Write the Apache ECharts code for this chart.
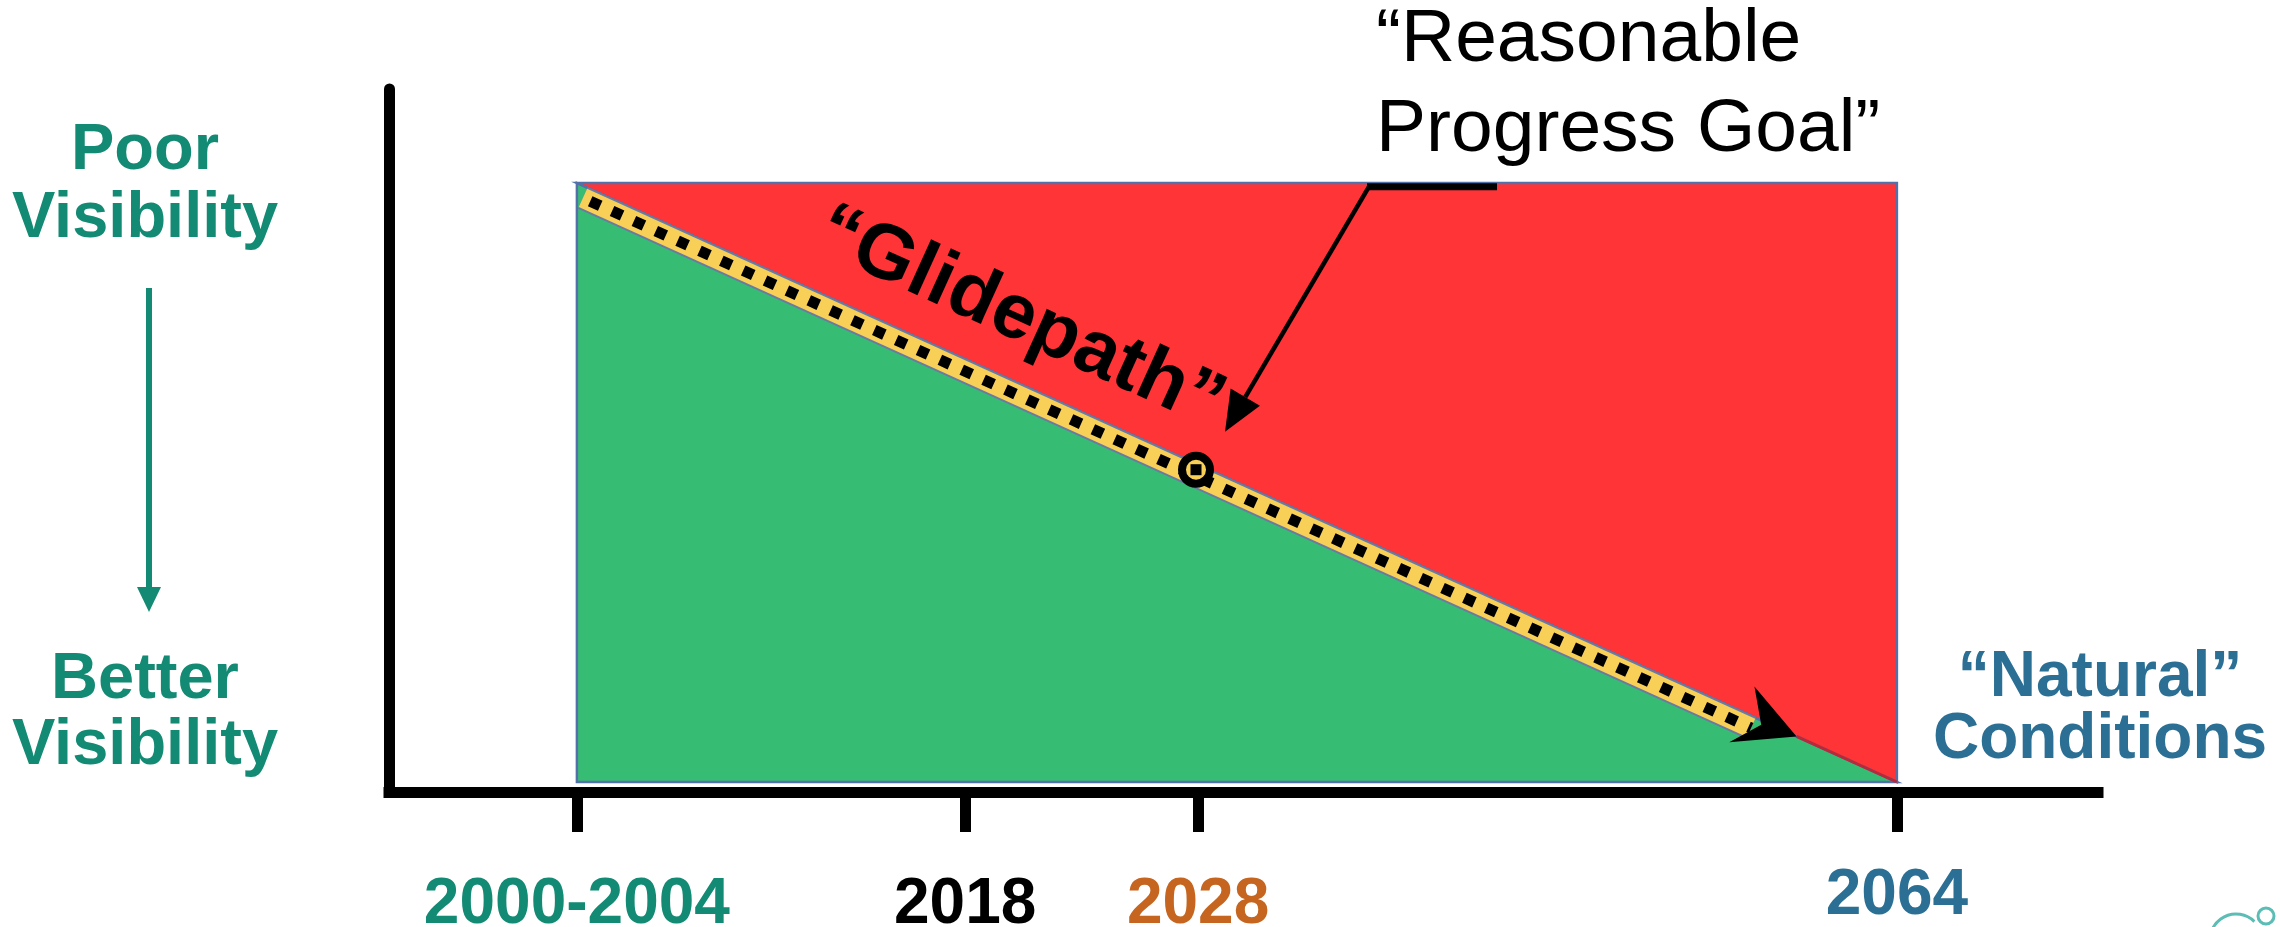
<!DOCTYPE html>
<html><head><meta charset="utf-8">
<script src="https://cdn.jsdelivr.net/npm/echarts@6/dist/echarts.min.js"></script>
<style>html,body{margin:0;padding:0;background:#fff}#c{width:2280px;height:927px}</style>
</head><body><div id="c"></div>
<script>
// ---- data ----
const milestoneLabels = ['2000-2004', '2018', '2028', '2064'];
const milestonePositions = [0, 5, 8, 17];      // schematic timeline slots
const glidepathStart = [0, 100];               // 2000-2004 baseline: poor visibility
const glidepathEnd = [17, 0];                  // 2064: natural conditions
const progressGoal = [8, 52.9];                // 2028 reasonable progress goal

// ---- styles ----
const FONT = "'Liberation Sans', Arial, sans-serif";
const RED = '#fe3437', GREEN = '#37bd73', YELLOW = '#f8cf57', EDGE = '#5470a8';
const TEAL = '#138a73', BLUE = '#2b7094', ORANGE = '#c5651f';
const BAND_OFF = 11;

function geom(api) {
  const p0 = api.coord(glidepathStart), p1 = api.coord(glidepathEnd);
  const dx = p1[0] - p0[0], dy = p1[1] - p0[1], L = Math.hypot(dx, dy);
  const ux = dx / L, uy = dy / L, nx = -uy, ny = ux;
  return {p0, p1, dx, dy, L, ux, uy, nx, ny,
    at: (t, off) => [p0[0] + dx * t + nx * off, p0[1] + dy * t + ny * off]};
}

function label(x, y, text, size, color, weight, align) {
  return {type: 'text', x: x, y: y, silent: true,
    style: {text: text, x: 0, y: 0, fontSize: size, fontWeight: weight, fontFamily: FONT,
      fill: color, align: align || 'center', verticalAlign: 'middle'}};
}

const chart = echarts.init(document.getElementById('c'));
chart.setOption({
  animation: false,
  backgroundColor: '#fff',
  grid: {left: 389, right: 182, top: 89, bottom: 135, containLabel: false, outerBoundsMode: 'none'},
  xAxis: {
    type: 'value', min: -2.42, max: 19.59,
    axisLine: {show: true, onZero: false, lineStyle: {color: '#000', width: 11, cap: 'square'}},
    axisTick: {show: true, customValues: milestonePositions, length: 40, lineStyle: {color: '#000', width: 11}},
    axisLabel: {
      show: true, customValues: milestonePositions, margin: 81,
      formatter: v => { const i = milestonePositions.indexOf(v); return '{m' + i + '|' + milestoneLabels[i] + '}'; },
      rich: {
        m0: {color: TEAL, fontSize: 64, fontWeight: 'bold', fontFamily: FONT, lineHeight: 64},
        m1: {color: '#000', fontSize: 64, fontWeight: 'bold', fontFamily: FONT, lineHeight: 64},
        m2: {color: ORANGE, fontSize: 64, fontWeight: 'bold', fontFamily: FONT, lineHeight: 64},
        m3: {color: BLUE, fontSize: 64, fontWeight: 'bold', fontFamily: FONT, lineHeight: 46}
      }
    },
    splitLine: {show: false}
  },
  yAxis: {
    type: 'value', min: -1.67, max: 115.7,
    axisLine: {show: true, onZero: false, lineStyle: {color: '#000', width: 11}},
    axisTick: {show: false}, axisLabel: {show: false}, splitLine: {show: false}
  },
  series: [
    {
      type: 'custom', name: 'Regions', silent: true,
      data: [[glidepathStart[0], glidepathStart[1], glidepathEnd[0], glidepathEnd[1]]],
      encode: {x: [0, 2], y: [1, 3]},
      renderItem: (params, api) => {
        const a = api.coord([api.value(0), api.value(1)]);
        const b = api.coord([api.value(2), api.value(3)]);
        const tr = api.coord([api.value(2), api.value(1)]);
        const bl = api.coord([api.value(0), api.value(3)]);
        return {type: 'group', children: [
          {type: 'polygon', shape: {points: [a, tr, b]}, style: {fill: RED, stroke: EDGE, lineWidth: 2.5}},
          {type: 'polygon', shape: {points: [a, b, bl]}, style: {fill: GREEN, stroke: EDGE, lineWidth: 2.5}}
        ]};
      }
    },
    {
      type: 'custom', name: 'Glidepath', silent: true,
      data: [[glidepathStart[0], glidepathStart[1], glidepathEnd[0], glidepathEnd[1]]],
      encode: {x: [0, 2], y: [1, 3]},
      renderItem: (params, api) => {
        const g = geom(api);
        const s = g.at(0.008, BAND_OFF), e = g.at(0.893, BAND_OFF);
        const tip = g.at(0.924, 0);
        const P = (d, n) => [tip[0] + g.ux * d + g.nx * n, tip[1] + g.uy * d + g.ny * n];
        const tc = g.at(0.317, -60);
        return {type: 'group', children: [
          {type: 'line', shape: {x1: tip[0], y1: tip[1], x2: g.p1[0], y2: g.p1[1]}, style: {stroke: '#b8293a', lineWidth: 3}},
          {type: 'line', shape: {x1: s[0], y1: s[1], x2: e[0], y2: e[1]}, style: {stroke: '#6b7aa0', lineWidth: 24}},
          {type: 'line', shape: {x1: s[0], y1: s[1], x2: e[0], y2: e[1]}, style: {stroke: YELLOW, lineWidth: 20}},
          {type: 'line', shape: {x1: s[0], y1: s[1], x2: e[0], y2: e[1]}, style: {stroke: '#000', lineWidth: 11, lineDash: [11, 13], lineDashOffset: -8}},
          {type: 'polygon', shape: {points: [tip, P(-59, -28), P(-37, 4), P(-59, 33)]}, style: {fill: '#000'}},
          {type: 'text', x: tc[0], y: tc[1], rotation: -Math.atan2(g.dy, g.dx),
            style: {text: '\u201cGlidepath\u201d', x: 0, y: 0, align: 'center', verticalAlign: 'middle',
              fill: '#000', fontSize: 78, fontWeight: 'bold', fontFamily: FONT}}
        ]};
      }
    },
    {
      type: 'custom', name: 'Reasonable Progress Goal', silent: true,
      data: [progressGoal],
      encode: {x: 0, y: 1},
      renderItem: (params, api) => {
        const g = geom(api);
        const c0 = api.coord([api.value(0), api.value(1)]);
        const cc = [c0[0] + g.nx * 5, c0[1] + g.ny * 5];
        const tip = [cc[0] + 29, cc[1] - 38];
        const elbow = [tip[0] + 144, tip[1] - 245];
        const barEnd = [elbow[0] + 128, elbow[1]];
        const vx = tip[0] - elbow[0], vy = tip[1] - elbow[1], vl = Math.hypot(vx, vy);
        const ax = vx / vl, ay = vy / vl, px = -ay, py = ax;
        const base = [tip[0] - ax * 40, tip[1] - ay * 40];
        return {type: 'group', children: [
          {type: 'circle', shape: {cx: cc[0], cy: cc[1], r: 14}, style: {fill: YELLOW, stroke: '#000', lineWidth: 8}},
          {type: 'rect', shape: {x: cc[0] - 5.5, y: cc[1] - 5.5, width: 11, height: 11}, style: {fill: '#000'}},
          {type: 'line', shape: {x1: elbow[0] - 2, y1: elbow[1], x2: barEnd[0], y2: barEnd[1]}, style: {stroke: '#000', lineWidth: 7}},
          {type: 'line', shape: {x1: elbow[0], y1: elbow[1], x2: base[0], y2: base[1]}, style: {stroke: '#000', lineWidth: 4.5}},
          {type: 'polygon', shape: {points: [tip, [base[0] + px * 17, base[1] + py * 17], [base[0] - px * 17, base[1] - py * 17]]}, style: {fill: '#000'}}
        ]};
      }
    }
  ],
  graphic: [
    label(1376, 40, '\u201cReasonable', 75, '#000', 'normal', 'left'),
    label(1376, 130, 'Progress Goal\u201d', 75, '#000', 'normal', 'left'),
    label(145, 151, 'Poor', 65, TEAL, 'bold'),
    label(145, 219, 'Visibility', 65, TEAL, 'bold'),
    label(145, 680, 'Better', 65, TEAL, 'bold'),
    label(145, 746, 'Visibility', 65, TEAL, 'bold'),
    {type: 'line', shape: {x1: 149, y1: 288, x2: 149, y2: 590}, style: {stroke: TEAL, lineWidth: 6}, silent: true},
    {type: 'polygon', shape: {points: [[137, 587], [161, 587], [149, 612]]}, style: {fill: TEAL}, silent: true},
    label(2100, 678, '\u201cNatural\u201d', 64, BLUE, 'bold'),
    label(2100, 740, 'Conditions', 64, BLUE, 'bold'),
    {type: 'arc', shape: {cx: 2236, cy: 940, r: 26, startAngle: Math.PI * 1.05, endAngle: Math.PI * 1.75}, style: {stroke: '#5bbdb5', lineWidth: 3, fill: null}, silent: true},
    {type: 'circle', shape: {cx: 2266, cy: 916, r: 8}, style: {stroke: '#5bbdb5', lineWidth: 3, fill: null}, silent: true}
  ]
});
</script></body></html>
